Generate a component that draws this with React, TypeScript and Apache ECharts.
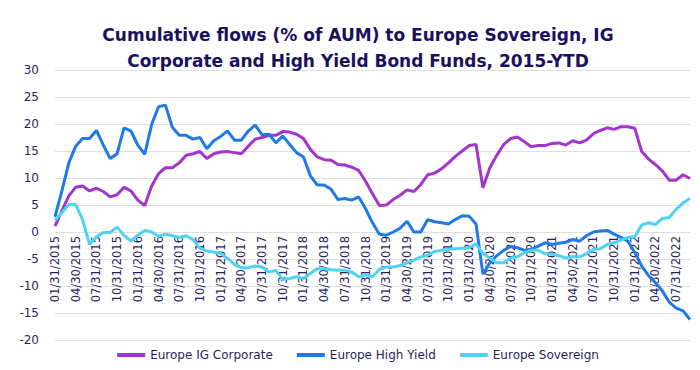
import React, { useEffect, useRef } from "react";
import * as echarts from "echarts";

const TITLE = "Cumulative flows (% of AUM) to Europe Sovereign, IG\nCorporate and High Yield Bond Funds, 2015-YTD";

const START_YEAR = 2015;
const MONTH_COUNT = 93; // 01/2015 .. 09/2022
const monthEnd = (y: number, m: number) => new Date(y, m + 1, 0).getDate();
const categories: string[] = [];
for (let i = 0; i < MONTH_COUNT; i++) {
  const y = START_YEAR + Math.floor(i / 12);
  const m = i % 12;
  const mm = String(m + 1).padStart(2, "0");
  categories.push(`${mm}/${monthEnd(y, m)}/${y}`);
}

const igCorporate = [
  1.1, 3.9, 6.7, 8.3, 8.5, 7.6, 8.1, 7.5, 6.5, 6.9, 8.3, 7.6, 5.9, 4.9, 8.5, 10.8,
  11.9, 11.9, 12.8, 14.2, 14.5, 14.9, 13.6, 14.5, 14.8, 14.9, 14.7, 14.5, 15.9, 17.2,
  17.5, 17.9, 17.9, 18.6, 18.5, 18.1, 17.3, 15.3, 13.9, 13.4, 13.3, 12.5, 12.4, 12.0,
  11.4, 9.4, 7.1, 4.9, 5.0, 6.0, 6.8, 7.8, 7.5, 8.8, 10.6, 10.9, 11.7, 12.8, 14.0,
  15.0, 16.0, 16.2, 8.2, 11.9, 14.2, 16.2, 17.3, 17.6, 16.7, 15.8, 16.0, 16.0, 16.4,
  16.5, 16.1, 16.9, 16.5, 17.0, 18.2, 18.8, 19.3, 19.0, 19.5, 19.5, 19.2, 14.9, 13.5,
  12.5, 11.3, 9.6, 9.6, 10.6, 9.9,
];

const highYield = [
  2.8, 7.6, 12.8, 15.9, 17.3, 17.3, 18.8, 16.1, 13.6, 14.5, 19.3, 18.7, 16.1, 14.4, 19.9, 23.2,
  23.5, 19.4, 17.9, 17.9, 17.2, 17.5, 15.4, 16.9, 17.7, 18.7, 17.0, 17.0, 18.7, 19.8,
  18.0, 18.1, 16.5, 17.8, 16.2, 14.7, 13.9, 10.4, 8.7, 8.7, 7.9, 6.0, 6.2, 5.9,
  6.5, 4.3, 1.7, -0.4, -0.6, 0.0, 0.7, 2.0, 0.0, 0.0, 2.3, 1.9, 1.7, 1.5, 2.3,
  3.0, 2.9, 1.5, -7.8, -5.7, -4.4, -3.4, -2.7, -2.9, -3.4, -3.2, -2.6, -2.0, -2.3,
  -2.1, -1.9, -1.4, -1.7, -0.7, 0.0, 0.2, 0.3, -0.4, -1.0, -1.7, -3.8, -6.3, -8.1,
  -9.4, -10.9, -13.0, -14.1, -14.6, -16.2,
];

const sovereign = [
  2.2, 3.6, 5.1, 5.1, 2.3, -2.3, -0.9, -0.1, -0.1, 0.9, -0.6, -1.7, -0.6, 0.3, 0.0, -0.8,
  -0.4, -0.7, -1.0, -0.7, -1.4, -3.0, -3.5, -3.7, -4.0, -4.9, -6.0, -6.6, -6.6, -6.3,
  -6.5, -7.4, -7.1, -8.8, -8.6, -8.3, -8.6, -7.7, -6.8, -6.8, -7.0, -7.1, -7.1, -7.4,
  -8.3, -7.9, -8.3, -6.9, -6.5, -6.5, -6.2, -5.7, -5.2, -4.6, -4.3, -3.6, -3.4, -3.2,
  -3.1, -3.0, -2.9, -2.2, -4.0, -4.8, -5.7, -5.7, -4.8, -4.6, -3.8, -3.4, -3.4, -4.0,
  -4.1, -4.4, -4.8, -4.6, -4.6, -4.0, -3.2, -3.1, -2.3, -2.0, -1.5, -1.0, -0.9, 1.3,
  1.7, 1.4, 2.5, 2.7, 4.2, 5.4, 6.2,
];

const SERIES_NAMES = ["Europe IG Corporate", "Europe High Yield", "Europe Sovereign"];
const COLORS = ["#a334cf", "#1f7ae8", "#4fd3f5"];

const TEXT = "#2a1f5e";
const FONT = "'DejaVu Sans', Inter, sans-serif";

export default function App() {
  const ref = useRef<HTMLDivElement>(null);
  useEffect(() => {
    if (!ref.current) return;
    const chart = echarts.init(ref.current, undefined, { renderer: "svg" });
    const mk = (name: string, data: number[], color: string) => ({
      name,
      type: "line",
      data,
      showSymbol: false,
      symbol: "none",
      lineStyle: { width: 3, color },
      itemStyle: { color },
      z: 3,
    });
    chart.setOption({
      animation: false,
      textStyle: { fontFamily: FONT },
      title: {
        text: TITLE,
        left: "center",
        top: 9,
        textStyle: {
          fontFamily: FONT,
          fontSize: 17,
          fontWeight: "bold",
          color: "#1b1060",
          lineHeight: 26,
        },
      },
      grid: { left: 47, right: 18, top: 62, bottom: 38, containLabel: false },
      xAxis: {
        type: "category",
        data: categories,
        boundaryGap: false,
        offset: -108,
        axisLine: { show: false, onZero: false },
        axisTick: { show: false },
        axisLabel: {
          interval: 2,
          rotate: 90,
          color: TEXT,
          fontSize: 11.5,
          margin: 4,
          fontFamily: FONT,
        },
        splitLine: { show: false },
      },
      yAxis: {
        type: "value",
        min: -20,
        max: 30,
        interval: 5,
        axisLine: { show: false },
        axisTick: { show: false },
        axisLabel: { color: TEXT, fontSize: 12, margin: 16, fontFamily: FONT },
        splitLine: { lineStyle: { color: "#dedede", width: 1 } },
      },
      legend: {
        bottom: 12,
        left: "center",
        itemWidth: 28,
        itemHeight: 4,
        itemGap: 24,
        icon: "rect",
        textStyle: { color: TEXT, fontSize: 12, fontFamily: FONT },
        data: SERIES_NAMES,
      },
      series: [
        mk(SERIES_NAMES[0], igCorporate, COLORS[0]),
        mk(SERIES_NAMES[1], highYield, COLORS[1]),
        mk(SERIES_NAMES[2], sovereign, COLORS[2]),
      ],
    });
    return () => chart.dispose();
  }, []);
  return <div ref={ref} style={{ width: 700, height: 370 }} />;
}
